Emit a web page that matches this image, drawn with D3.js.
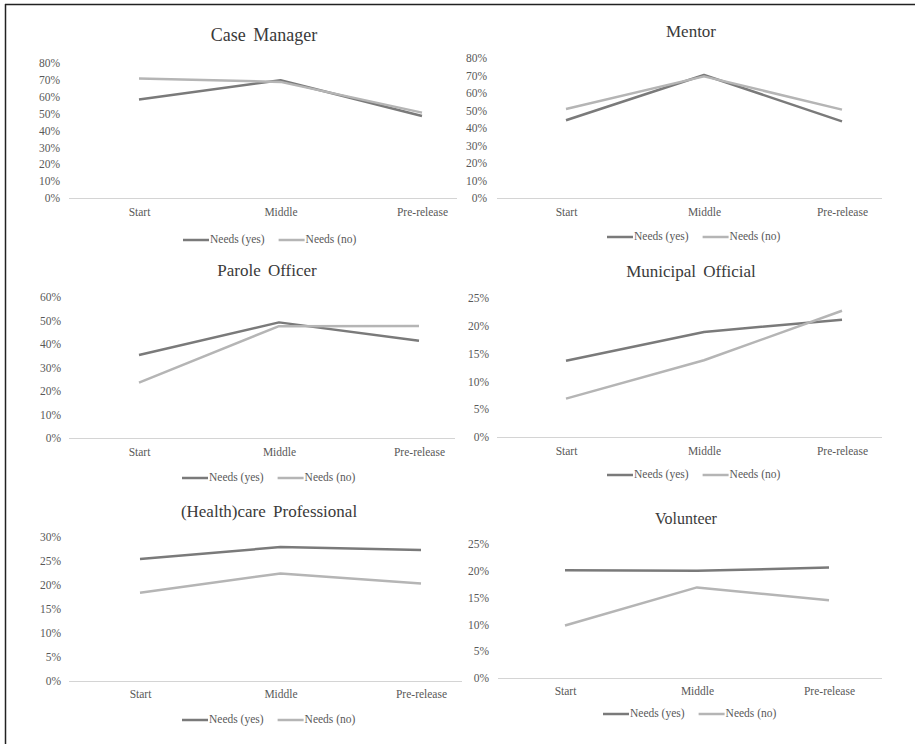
<!DOCTYPE html>
<html>
<head>
<meta charset="utf-8">
<script src="https://cdn.jsdelivr.net/npm/d3@7"></script>
<style>
  body { margin: 0; background: #fff; }
  text { font-family: "Liberation Serif", "Times New Roman", serif; }
</style>
</head>
<body>
<div id="chart"></div>
<script>
// data
const categories = ["Start", "Middle", "Pre-release"];
const seriesNames = ["Needs (yes)", "Needs (no)"];
const panelTitles = ["Case Manager", "Mentor", "Parole Officer", "Municipal Official",
  "(Health)care Professional", "Volunteer"];
const needsYes = [
  [58.4, 69.8, 48.6],
  [44.4, 70.3, 43.8],
  [35.3, 49.2, 41.4],
  [13.7, 18.9, 21.1],
  [25.4, 27.9, 27.3],
  [20.1, 20.0, 20.6]
];
const needsNo = [
  [70.8, 68.8, 50.6],
  [50.9, 69.5, 50.5],
  [23.6, 47.6, 47.7],
  [6.9, 13.8, 22.7],
  [18.4, 22.4, 20.3],
  [9.8, 16.9, 14.5]
];
const yMax = [80, 80, 60, 25, 30, 25];
const yStep = [10, 10, 10, 5, 5, 5];

// layout of each small chart (pixels)
const layout = [
  { x0: 139, x1: 422, axL: 69, axR: 457, y0: 198, yTop: 63, tickX: 60, tx: 264, ty: 37, ts: 18, ly: 212, lgX: 183, lgY: 240 },
  { x0: 566, x1: 842, axL: 497, axR: 882, y0: 198, yTop: 58, tickX: 487, tx: 691, ty: 33, ts: 17, ly: 212, lgX: 607, lgY: 237 },
  { x0: 139, x1: 419, axL: 69, axR: 455, y0: 438, yTop: 297, tickX: 61, tx: 267, ty: 272, ts: 17, ly: 452, lgX: 182, lgY: 478 },
  { x0: 566, x1: 842, axL: 497, axR: 882, y0: 437, yTop: 298, tickX: 489, tx: 691, ty: 273, ts: 17, ly: 451, lgX: 607, lgY: 475 },
  { x0: 140, x1: 421, axL: 69, axR: 462, y0: 681, yTop: 537, tickX: 61, tx: 269, ty: 513, ts: 17, ly: 694, lgX: 182, lgY: 720 },
  { x0: 565, x1: 829, axL: 498, axR: 882, y0: 678, yTop: 544, tickX: 489, tx: 686, ty: 520, ts: 16, ly: 691, lgX: 603, lgY: 714 }
];

const colors = ["#7a7a7a", "#b5b5b5"];

const svg = d3.select("#chart")
  .append("svg")
  .attr("width", 915)
  .attr("height", 744);

// frame (only top and left edges are visible in the picture)
svg.append("line").attr("x1", 5.5).attr("x2", 5.5).attr("y1", 4).attr("y2", 744)
  .attr("stroke", "#222").attr("stroke-width", 1.5);
svg.append("line").attr("x1", 5).attr("x2", 915).attr("y1", 4.5).attr("y2", 4.5)
  .attr("stroke", "#222").attr("stroke-width", 1.5);

panelTitles.forEach(function (title, i) {
  const L = layout[i];
  const g = svg.append("g");

  const x = d3.scalePoint().domain(categories).range([L.x0, L.x1]);
  const y = d3.scaleLinear().domain([0, yMax[i]]).range([L.y0, L.yTop]);

  // title
  g.append("text")
    .attr("x", L.tx).attr("y", L.ty)
    .attr("text-anchor", "middle")
    .attr("dominant-baseline", "middle")
    .attr("font-size", L.ts)
    .attr("word-spacing", 3)
    .attr("fill", "#3a3a3a")
    .text(title);

  // y axis labels
  const yAxis = d3.axisLeft(y)
    .tickValues(d3.range(0, yMax[i] + 0.001, yStep[i]))
    .tickSize(0)
    .tickPadding(0)
    .tickFormat(d => d + "%");
  g.append("g")
    .attr("transform", `translate(${L.tickX},0)`)
    .call(yAxis)
    .call(a => a.select(".domain").remove())
    .call(a => a.selectAll("text")
      .attr("font-family", "Liberation Serif")
      .attr("font-size", 11.5)
      .attr("fill", "#595959"));

  // baseline
  g.append("line")
    .attr("x1", L.axL).attr("x2", L.axR)
    .attr("y1", y(0) + 0.5).attr("y2", y(0) + 0.5)
    .attr("stroke", "#d4d4d4").attr("stroke-width", 1);

  // x axis labels
  const xAxis = d3.axisBottom(x).tickSize(0).tickPadding(0);
  g.append("g")
    .attr("transform", `translate(0,${L.ly})`)
    .call(xAxis)
    .call(a => a.select(".domain").remove())
    .call(a => a.selectAll("text")
      .attr("dy", "0.35em")
      .attr("font-family", "Liberation Serif")
      .attr("font-size", 11.5)
      .attr("fill", "#595959"));

  // lines
  const line = d3.line().x((d, k) => x(categories[k])).y(d => y(d));
  [needsYes[i], needsNo[i]].forEach(function (vals, s) {
    g.append("path")
      .datum(vals)
      .attr("d", line)
      .attr("fill", "none")
      .attr("stroke", colors[s])
      .attr("stroke-width", 2.5)
      .attr("stroke-linejoin", "round");
  });

  // legend
  let lx = L.lgX;
  seriesNames.forEach(function (name, s) {
    g.append("line")
      .attr("x1", lx).attr("x2", lx + 26)
      .attr("y1", L.lgY).attr("y2", L.lgY)
      .attr("stroke", colors[s]).attr("stroke-width", 2.5);
    const t = g.append("text")
      .attr("x", lx + 27).attr("y", L.lgY)
      .attr("dominant-baseline", "middle")
      .attr("font-size", 11.5)
      .attr("fill", "#595959")
      .text(name);
    lx += 27 + t.node().getComputedTextLength() + 14;
  });
});
</script>
</body>
</html>
